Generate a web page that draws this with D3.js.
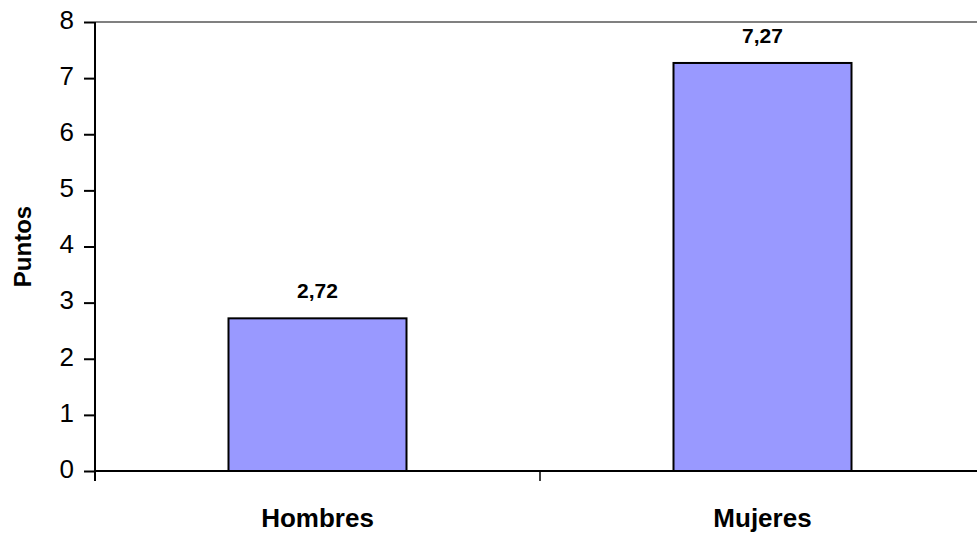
<!DOCTYPE html>
<html><head><meta charset="utf-8">
<script src="https://cdn.jsdelivr.net/npm/d3@7/dist/d3.min.js"></script>
<style>body{margin:0;background:#fff}svg{display:block}text{font-family:"Liberation Sans",Arial,sans-serif}</style>
</head><body>
<script>
const categories = ["Hombres", "Mujeres"];
const values = [2.72, 7.27];
const valueLabels = ["2,72", "7,27"];
const yTicks = [0,1,2,3,4,5,6,7,8];

const W = 977, H = 538;
const mLeft = 95, mRight = 985, mTop = 22, mBottom = 471;
const svg = d3.select("body").append("svg").attr("width", W).attr("height", H);

const x = d3.scaleBand().domain(categories).range([mLeft, mRight]).paddingInner(0).paddingOuter(0);
const y = d3.scaleLinear().domain([0, 8]).range([mBottom, mTop]);

// top border
svg.append("line").attr("x1", mLeft).attr("x2", mRight).attr("y1", y(8)).attr("y2", y(8))
  .attr("stroke", "#808080").attr("stroke-width", 2);

// bars
const bw = x.bandwidth() * 0.4;
svg.selectAll("rect.bar").data(values).enter().append("rect")
  .attr("x", (d, i) => x(categories[i]) + (x.bandwidth() - bw) / 2)
  .attr("y", d => y(d))
  .attr("width", bw)
  .attr("height", d => y(0) - y(d))
  .attr("fill", "#9999ff").attr("stroke", "#000").attr("stroke-width", 2);

// value labels
svg.selectAll("text.val").data(values).enter().append("text")
  .attr("x", (d, i) => x(categories[i]) + x.bandwidth() / 2)
  .attr("y", d => y(d) - 20)
  .attr("text-anchor", "middle").attr("font-weight", "bold").attr("font-size", 21)
  .text((d, i) => valueLabels[i]);

// y axis
const ya = svg.append("g").attr("transform", `translate(${mLeft},0)`)
  .call(d3.axisLeft(y).tickValues(yTicks).tickSize(11).tickPadding(10).tickFormat(d3.format("d")));
ya.select(".domain").attr("stroke", "#000").attr("stroke-width", 2).attr("d", `M0,${mTop}V${mBottom + 10}`);
ya.selectAll(".tick line").attr("stroke", "#000").attr("stroke-width", 2);
ya.selectAll(".tick text").attr("font-size", 26).attr("dy", "0.24em").attr("fill", "#000")
  .style("font-family", "Liberation Sans, Arial, sans-serif");

// x axis
const xa = svg.append("g").attr("transform", `translate(0,${mBottom})`);
xa.append("line").attr("x1", mLeft).attr("x2", mRight).attr("y1", 0).attr("y2", 0).attr("stroke", "#000").attr("stroke-width", 2);
const bounds = [mLeft, x(categories[1]), mRight];
xa.selectAll("line.tk").data(bounds).enter().append("line")
  .attr("x1", d => d).attr("x2", d => d).attr("y1", 0).attr("y2", 10)
  .attr("stroke", "#000").attr("stroke-width", 1.5);
xa.selectAll("text.cat").data(categories).enter().append("text")
  .attr("x", d => x(d) + x.bandwidth() / 2).attr("y", 56)
  .attr("text-anchor", "middle").attr("font-weight", "bold").attr("font-size", 26)
  .text(d => d);

// axis title
svg.append("text").attr("transform", `translate(31,${(mTop + mBottom) / 2}) rotate(-90)`)
  .attr("text-anchor", "middle").attr("font-weight", "bold").attr("font-size", 24)
  .text("Puntos");
</script>
</body></html>
